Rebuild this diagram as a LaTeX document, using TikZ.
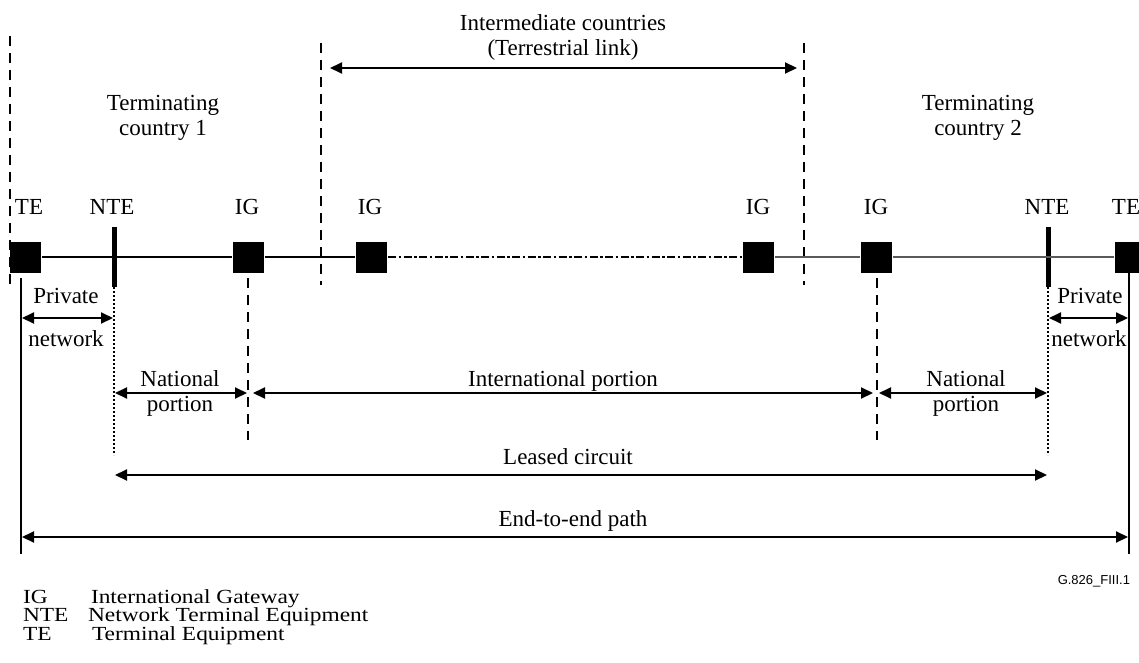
\documentclass[tikz,border=0pt]{standalone}
\usepackage{fontspec}
\setmainfont{Liberation Serif}
\newfontfamily\figsans{Liberation Sans}
\newfontfamily\legfont[FakeStretch=1.17]{Liberation Serif}
\usetikzlibrary{arrows.meta}
\definecolor{linegray}{RGB}{90,90,90}
\begin{document}
\begin{tikzpicture}[x=1pt,y=-1pt,line width=2pt,
  sq/.style={fill=black,draw=none,minimum size=31pt,inner sep=0pt},
  bar/.style={fill=black,draw=none,minimum width=5pt,minimum height=60pt,inner sep=0pt},
  lbl/.style={font=\fontsize{23}{25}\selectfont,inner sep=0pt,anchor=base},
  leg/.style={font=\legfont\fontsize{20}{18}\selectfont,inner sep=0pt,anchor=base west,text height=13.5pt,text depth=4pt},
  dimarr/.style={{Triangle[length=12pt,width=11pt]}-{Triangle[length=12pt,width=11pt]},line width=2pt},
  bnd/.style={dash pattern=on 10pt off 7pt,line width=2pt},
  dotl/.style={dash pattern=on 2pt off 2pt,line width=2pt},
  dashdotl/.style={dash pattern=on 8pt off 2.5pt on 2.5pt off 2.5pt,line width=2pt},
  grayl/.style={draw=linegray,line width=2pt}]
\useasboundingbox (0,0) rectangle (1139,663);

% region boundaries
\coordinate (b1t) at (10,36);  \coordinate (b1b) at (10,285);
\coordinate (b2t) at (321,43); \coordinate (b2b) at (321,285);
\coordinate (b3t) at (804,43); \coordinate (b3b) at (804,285);
\draw[bnd] (b1t) -- (b1b);
\draw[bnd] (b2t) -- (b2b);
\draw[bnd] (b3t) -- (b3b);

% top labels
\node[lbl] (intm1) at (563,31) {Intermediate countries};
\node[lbl] (intm2) at (563,56) {(Terrestrial link)};
\coordinate (ia1) at (330,68); \coordinate (ia2) at (797,68);
\draw[dimarr] (ia1) -- (ia2);
\node[lbl] (tc1a) at (163,111) {Terminating};
\node[lbl] (tc1b) at (163,136) {country 1};
\node[lbl] (tc2a) at (978,111) {Terminating};
\node[lbl] (tc2b) at (978,136) {country 2};

% equipment
\node[sq]  (te1)  at (25.5,257) {};
\node[bar] (nte1) at (114,257) {};
\node[sq]  (ig1)  at (248,257) {};
\node[sq]  (ig2)  at (371.5,257) {};
\node[sq]  (ig3)  at (758.5,257) {};
\node[sq]  (ig4)  at (876.5,257) {};
\node[bar] (nte2) at (1048,257) {};
\node[sq]  (te2)  at (1130.5,257) {};

% main line
\draw (te1.east) -- (ig1.west);
\draw (ig1.east) -- (ig2.west);
\draw[dashdotl] (ig2.east) -- (ig3.west);
\draw[grayl] (ig3.east) -- (ig4.west);
\draw[grayl] (ig4.east) -- (te2.west);

% equipment labels
\node[lbl] (lte1)  at (29,214) {TE};
\node[lbl] (lnte1) at (112,214) {NTE};
\node[lbl] (lig1)  at (247,214) {IG};
\node[lbl] (lig2)  at (370,214) {IG};
\node[lbl] (lig3)  at (758,214) {IG};
\node[lbl] (lig4)  at (876,214) {IG};
\node[lbl] (lnte2) at (1047,214) {NTE};
\node[lbl] (lte2)  at (1126,214) {TE};

% vertical reference lines below
\coordinate (v1t) at (21,278);   \coordinate (v1b) at (21,554);
\coordinate (v2t) at (1129,273); \coordinate (v2b) at (1129,554);
\draw (v1t) -- (v1b);
\draw (v2t) -- (v2b);
\coordinate (n1t) at (114,287);  \coordinate (n1b) at (114,455);
\coordinate (n2t) at (1048,287); \coordinate (n2b) at (1048,455);
\draw[dotl] (n1t) -- (n1b);
\draw[dotl] (n2t) -- (n2b);
\coordinate (g1t) at (248,278); \coordinate (g1b) at (248,440);
\coordinate (g2t) at (877,278); \coordinate (g2b) at (877,440);
\draw[bnd] (g1t) -- (g1b);
\draw[bnd] (g2t) -- (g2b);

% private network
\coordinate (p1a) at (22,318);   \coordinate (p1b) at (113,318);
\coordinate (p2a) at (1049,318); \coordinate (p2b) at (1128,318);
\draw[dimarr] (p1a) -- (p1b);
\draw[dimarr] (p2a) -- (p2b);
\node[lbl] (pn1a) at (66,303) {Private};
\node[lbl] (pn1b) at (66,346) {network};
\node[lbl] (pn2a) at (1090,303) {Private};
\node[lbl] (pn2b) at (1089,346) {network};

% national / international portions
\coordinate (na1) at (115,393); \coordinate (na2) at (247,393);
\coordinate (ia3) at (253,393); \coordinate (ia4) at (873,393);
\coordinate (nb1) at (879,393); \coordinate (nb2) at (1047,393);
\draw[dimarr] (na1) -- (na2);
\draw[dimarr] (ia3) -- (ia4);
\draw[dimarr] (nb1) -- (nb2);
\node[lbl] (np1a) at (180,386) {National};
\node[lbl] (np1b) at (180,411) {portion};
\node[lbl] (ip)   at (563,386) {International portion};
\node[lbl] (np2a) at (966,386) {National};
\node[lbl] (np2b) at (966,411) {portion};

% leased circuit
\coordinate (lc1) at (115,475); \coordinate (lc2) at (1047,475);
\draw[dimarr] (lc1) -- (lc2);
\node[lbl] (lc) at (568,464) {Leased circuit};

% end-to-end path
\coordinate (ee1) at (22,537); \coordinate (ee2) at (1128,537);
\draw[dimarr] (ee1) -- (ee2);
\node[lbl] (ee) at (573,526) {End-to-end path};

% figure id
\node[inner sep=0pt,anchor=base east,font=\figsans\fontsize{13}{15}\selectfont] (fid) at (1131,584) {G.826\_FIII.1};

% legend
\node[leg] (k1) at (22,603) {IG};
\node[leg] (d1) at (90,603) {International Gateway};
\node[leg] (k2) at (22,621.5) {NTE};
\node[leg] (d2) at (87,621.5) {Network Terminal Equipment};
\node[leg] (k3) at (22,640) {TE};
\node[leg] (d3) at (91,640) {Terminal Equipment};
\end{tikzpicture}
\end{document}
